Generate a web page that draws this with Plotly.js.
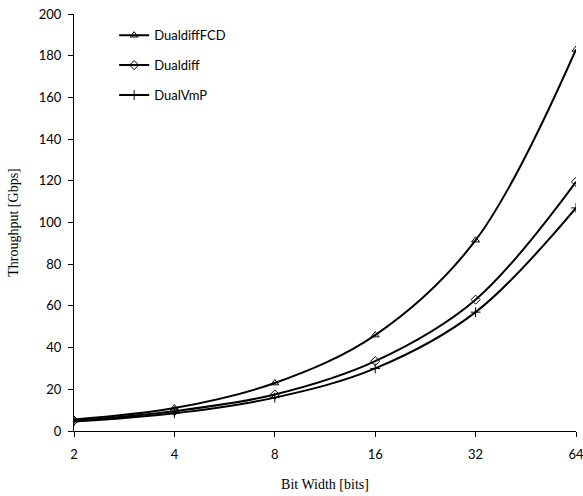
<!DOCTYPE html>
<html>
<head>
<meta charset="utf-8">
<script src="https://cdn.plot.ly/plotly-3.0.1.min.js"></script>
<style>html,body{margin:0;padding:0;background:#fff;}#chart{width:583px;height:496px;}</style>
</head>
<body>
<div id="chart"></div>
<script>
// Bit widths on the horizontal axis
const bitWidths = ['2', '4', '8', '16', '32', '64'];

// Throughput per design [Gbps]
const dualdiffFCD = [5.5, 11, 23, 46, 91.5, 183];
const dualdiff = [5, 9.5, 17.5, 33.5, 63, 119.5];
const dualVmP = [4.5, 8.5, 16, 30, 57, 107];

const yTicks = [0, 20, 40, 60, 80, 100, 120, 140, 160, 180, 200];

function series(name, values, symbol, group) {
  return {
    x: bitWidths,
    y: values,
    name: name,
    legendgroup: group,
    type: 'scatter',
    mode: 'lines+markers',
    line: {color: '#000', width: 2, shape: 'spline', smoothing: 1},
    marker: {symbol: symbol, size: 7, color: '#000', line: {color: '#000', width: 1}}
  };
}

const traces = [
  series('DualdiffFCD', dualdiffFCD, 'triangle-up-open', 'a'),
  series('Dualdiff', dualdiff, 'diamond-open', 'b'),
  series('DualVmP', dualVmP, 'cross-thin-open', 'c')
];

const tickFont = {family: 'Lato, "Open Sans", sans-serif', size: 13, color: '#000'};
const titleFont = {family: '"Liberation Serif", "Times New Roman", serif', size: 14, color: '#000'};

const layout = {
  width: 583,
  height: 496,
  margin: {l: 74, r: 7, t: 14, b: 65},
  paper_bgcolor: '#fff',
  plot_bgcolor: '#fff',
  showlegend: true,
  legend: {
    x: 0.08, y: 0.985, xanchor: 'left', yanchor: 'top',
    font: {family: 'Lato, "Open Sans", sans-serif', size: 13, color: '#000'},
    bgcolor: 'rgba(0,0,0,0)',
    traceorder: 'grouped',
    tracegroupgap: 10
  },
  xaxis: {
    type: 'category',
    range: [0, 5],
    showgrid: false,
    zeroline: false,
    showline: true,
    linecolor: '#000',
    linewidth: 1,
    ticks: 'outside',
    ticklen: 5,
    tickcolor: '#000',
    ticklabelstandoff: 6,
    tickfont: tickFont,
    title: {text: 'Bit Width [bits]', font: titleFont, standoff: 18}
  },
  yaxis: {
    range: [0, 200],
    tickvals: yTicks,
    showgrid: false,
    zeroline: false,
    showline: true,
    linecolor: '#000',
    linewidth: 1,
    ticks: 'outside',
    ticklen: 5,
    tickcolor: '#000',
    ticklabelstandoff: 4,
    tickfont: tickFont,
    title: {text: 'Throughput [Gbps]', font: titleFont, standoff: 16}
  }
};

Plotly.newPlot('chart', traces, layout, {displayModeBar: false, staticPlot: true});
</script>
</body>
</html>
